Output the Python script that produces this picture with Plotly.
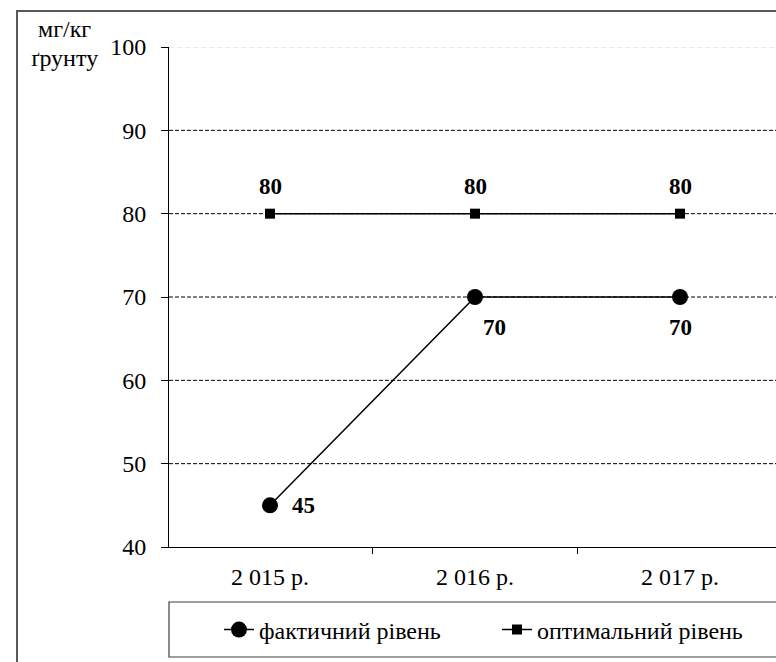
import plotly.graph_objects as go

# Data
years = ["2 015 р.", "2 016 р.", "2 017 р."]
actual = [45, 70, 70]
optimal = [80, 80, 80]
y_ticks = [40, 50, 60, 70, 80, 90, 100]
grid_dark = [50, 60, 70, 80, 90]
grid_light = [100]
unit_lines = ["мг/кг", "ґрунту"]

FONT = "Liberation Serif, DejaVu Serif, serif"
W, H = 776, 662
L, R, T, B = 169, 0, 47, 115
pw, ph = W - L - R, H - T - B
CAT_W = 205.0          # pixel width of one category slot
X0 = -101.0 / CAT_W    # left end of the category axis

fig = go.Figure()

fig.add_trace(go.Scatter(
    x=years, y=actual, name="фактичний рівень", mode="lines+markers",
    line=dict(color="black", width=1.5),
    marker=dict(symbol="circle", size=16, color="black"),
))
fig.add_trace(go.Scatter(
    x=years, y=optimal, name="оптимальний рівень", mode="lines+markers",
    line=dict(color="black", width=1.5),
    marker=dict(symbol="square", size=10, color="black"),
))

# Value labels
lab_font = dict(family=FONT, size=23, color="black")
opt_shift = [(0, 27), (0, 27), (0, 27)]
act_shift = [(33, 0), (19, -30), (0, -30)]
for xv, yv, (dx, dy) in zip(years, optimal, opt_shift):
    fig.add_annotation(x=xv, y=yv, text=f"<b>{yv}</b>", showarrow=False,
                       xshift=dx, yshift=dy, font=lab_font)
for xv, yv, (dx, dy) in zip(years, actual, act_shift):
    fig.add_annotation(x=xv, y=yv, text=f"<b>{yv}</b>", showarrow=False,
                       xshift=dx, yshift=dy, font=lab_font)

# Horizontal gridlines
for g in grid_dark:
    fig.add_shape(type="line", xref="paper", yref="y", x0=0, x1=1, y0=g, y1=g,
                  line=dict(color="black", width=1, dash="4px,2px"), layer="below")
for g in grid_light:
    fig.add_shape(type="line", xref="paper", yref="y", x0=0, x1=1, y0=g, y1=g,
                  line=dict(color="#d4d4d4", width=1, dash="5px,3px"), layer="below")

# Legend box
fig.add_shape(type="rect", xref="paper", yref="paper",
              x0=0, x1=1.05, y0=(T + ph - 657) / ph, y1=(T + ph - 602) / ph,
              line=dict(color="#404040", width=1.2), fillcolor="rgba(0,0,0,0)")
# Outer chart frame
fig.add_shape(type="rect", xref="paper", yref="paper",
              x0=(17 - L) / pw, x1=1.05, y0=-0.4, y1=(T + ph - 11) / ph,
              line=dict(color="#5a5a5a", width=2), fillcolor="rgba(0,0,0,0)")

# Unit caption, one annotation per line for tight line spacing
for line_text, ypx in zip(unit_lines, [29, 58]):
    fig.add_annotation(xref="paper", yref="paper", x=(65 - L) / pw, y=(T + ph - ypx) / ph,
                       xanchor="center", yanchor="middle",
                       text=line_text, showarrow=False,
                       font=dict(family=FONT, size=24, color="black"))

fig.update_layout(
    width=W, height=H,
    margin=dict(l=L, r=R, t=T, b=B, pad=0),
    paper_bgcolor="white", plot_bgcolor="white",
    font=dict(family=FONT, size=24, color="black"),
    showlegend=True,
    legend=dict(orientation="h", x=(219 - L) / pw, xanchor="left",
                y=(T + ph - 630) / ph, yanchor="middle",
                bgcolor="rgba(0,0,0,0)", borderwidth=0,
                entrywidth=233, font=dict(family=FONT, size=24)),
    xaxis=dict(type="category", range=[X0, X0 + pw / CAT_W],
               showline=True, linecolor="black", linewidth=1,
               ticks="outside", ticklen=6, tickcolor="black", tickson="boundaries",
               showgrid=False, zeroline=False, ticklabelstandoff=8,
               tickfont=dict(family=FONT, size=24)),
    yaxis=dict(range=[40, 100], tickvals=y_ticks,
               showline=True, linecolor="black", linewidth=1,
               ticks="outside", ticklen=7, tickcolor="black",
               showgrid=False, zeroline=False, ticklabelstandoff=10,
               tickfont=dict(family=FONT, size=24)),
)

fig.write_html("out.html")
